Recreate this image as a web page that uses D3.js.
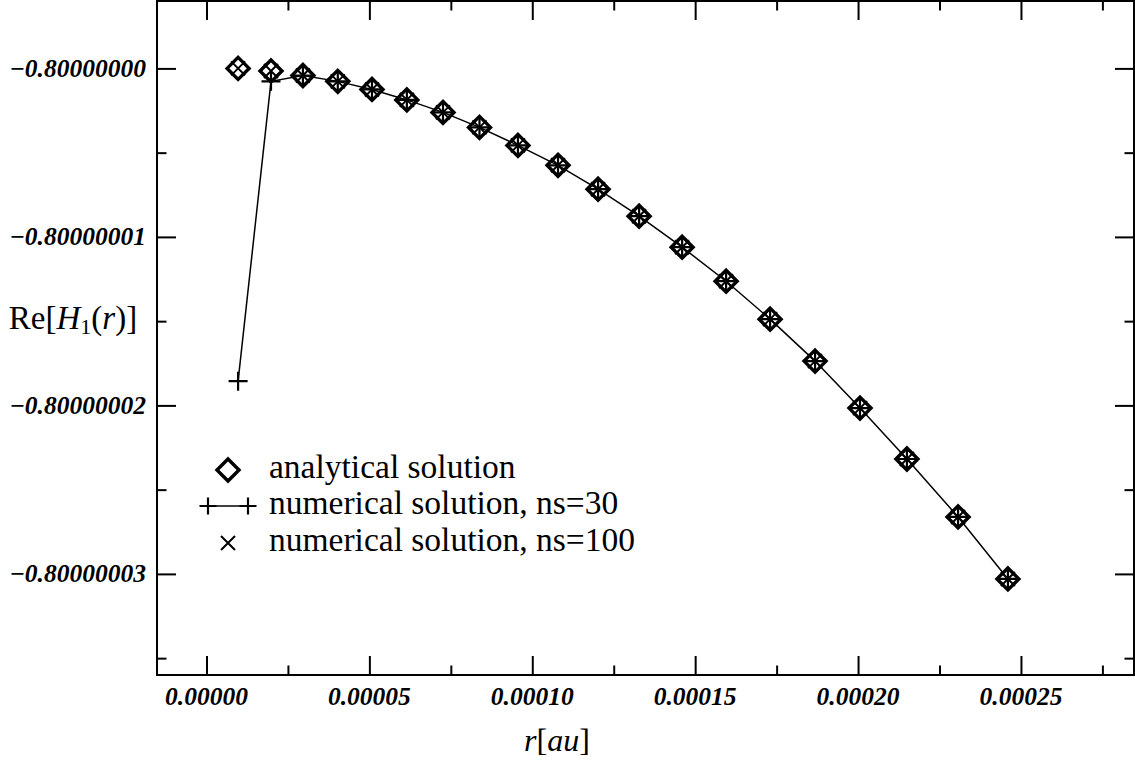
<!DOCTYPE html>
<html>
<head>
<meta charset="utf-8">
<script src="https://cdn.jsdelivr.net/npm/d3@7"></script>
<style>
  html, body { margin: 0; padding: 0; background: #fff; }
  svg { display: block; }
  text { fill: #000; }
</style>
</head>
<body>
<svg id="chart" width="1135" height="771"></svg>
<script>
// ---------------- data ----------------
const rValues = [0.97e-5, 1.98e-5, 2.96e-5, 4.03e-5, 5.08e-5, 6.15e-5, 7.26e-5, 8.38e-5, 9.56e-5,
  1.079e-4, 1.202e-4, 1.328e-4, 1.460e-4, 1.595e-4, 1.730e-4, 1.868e-4, 2.006e-4, 2.150e-4, 2.307e-4, 2.460e-4];
const analytical = [-0.80000000000, -0.80000000015, -0.80000000042, -0.80000000077, -0.80000000125,
  -0.80000000187, -0.80000000261, -0.80000000350, -0.80000000457, -0.80000000575, -0.80000000717,
  -0.80000000877, -0.80000001061, -0.80000001263, -0.80000001488, -0.80000001737, -0.80000002016,
  -0.80000002318, -0.80000002662, -0.80000003030];
const numericalNs30 = [-0.80000001856, -0.80000000077, -0.80000000042, -0.80000000077, -0.80000000125,
  -0.80000000187, -0.80000000261, -0.80000000350, -0.80000000457, -0.80000000575, -0.80000000717,
  -0.80000000877, -0.80000001061, -0.80000001263, -0.80000001488, -0.80000001737, -0.80000002016,
  -0.80000002318, -0.80000002662, -0.80000003030];
const numericalNs100 = [-0.80000000000, -0.80000000015, -0.80000000042, -0.80000000077, -0.80000000125,
  -0.80000000187, -0.80000000261, -0.80000000350, -0.80000000457, -0.80000000575, -0.80000000717,
  -0.80000000877, -0.80000001061, -0.80000001263, -0.80000001488, -0.80000001737, -0.80000002016,
  -0.80000002318, -0.80000002662, -0.80000003030];

const xMajorTicks = [0, 0.00005, 0.00010, 0.00015, 0.00020, 0.00025];
const xMinorTicks = [0.000025, 0.000075, 0.000125, 0.000175, 0.000225, 0.000275];
const xTickLabels = ["0.00000", "0.00005", "0.00010", "0.00015", "0.00020", "0.00025"];
const yMajorTicks = [-0.80000000, -0.80000001, -0.80000002, -0.80000003];
const yMinorTicks = [-0.800000005, -0.800000015, -0.800000025, -0.800000035];
const yTickLabels = ["\u22120.80000000", "\u22120.80000001", "\u22120.80000002", "\u22120.80000003"];
const legendLabels = ["analytical solution", "numerical solution, ns=30", "numerical solution, ns=100"];

// ---------------- layout ----------------
const svg = d3.select("#chart");
const L = 157, R = 1134, T = 1, B = 675;
const x = d3.scaleLinear().domain([-1.519e-5, 2.847e-4]).range([L, R]);
const y = d3.scaleLinear().domain([-0.800000036, -0.799999996]).range([B, T]);

const serif = "'Liberation Serif', 'Times New Roman', serif";

// ticks via d3 axes (inward)
function tickAxis(axisFn, scale, ticks, size, transform) {
  const g = svg.append("g").attr("transform", transform)
    .call(axisFn(scale).tickValues(ticks).tickSize(size).tickFormat(""));
  g.select(".domain").remove();
  g.selectAll(".tick line").attr("stroke", "#000").attr("stroke-width", 2);
  return g;
}
tickAxis(d3.axisBottom, x, xMajorTicks, -19, `translate(0,${B})`);
tickAxis(d3.axisBottom, x, xMinorTicks, -9.5, `translate(0,${B})`);
tickAxis(d3.axisTop, x, xMajorTicks, -19, `translate(0,${T})`);
tickAxis(d3.axisTop, x, xMinorTicks, -9.5, `translate(0,${T})`);
tickAxis(d3.axisLeft, y, yMajorTicks, -19, `translate(${L},0)`);
tickAxis(d3.axisLeft, y, yMinorTicks, -9.5, `translate(${L},0)`);
tickAxis(d3.axisRight, y, yMajorTicks, -19, `translate(${R},0)`);
tickAxis(d3.axisRight, y, yMinorTicks, -9.5, `translate(${R},0)`);

// frame
svg.append("rect").attr("x", L).attr("y", T).attr("width", R - L).attr("height", B - T)
  .attr("fill", "none").attr("stroke", "#000").attr("stroke-width", 2);

// tick labels
svg.append("g").selectAll("text").data(xMajorTicks).join("text")
  .attr("x", d => x(d)).attr("y", 705)
  .attr("text-anchor", "middle")
  .style("font-family", serif).style("font-weight", "bold").style("font-style", "italic")
  .style("font-size", "25.5px")
  .text((d, i) => xTickLabels[i]);

svg.append("g").selectAll("text").data(yMajorTicks).join("text")
  .attr("x", 146).attr("y", d => y(d) + 8.5)
  .attr("text-anchor", "end")
  .style("font-family", serif).style("font-weight", "bold").style("font-style", "italic")
  .style("font-size", "25.5px")
  .text((d, i) => yTickLabels[i]);

// axis titles
const yt = svg.append("text").attr("x", 73).attr("y", 329).attr("text-anchor", "middle")
  .style("font-family", serif).style("font-size", "33px");
yt.append("tspan").text("Re[");
yt.append("tspan").style("font-style", "italic").text("H");
yt.append("tspan").style("font-size", "22px").attr("dy", 5).text("1");
yt.append("tspan").attr("dy", -5).text("(");
yt.append("tspan").style("font-style", "italic").text("r");
yt.append("tspan").text(")]");

const xt = svg.append("text").attr("x", 557).attr("y", 751).attr("text-anchor", "middle")
  .style("font-family", serif).style("font-size", "32px");
xt.append("tspan").style("font-style", "italic").text("r");
xt.append("tspan").text("[");
xt.append("tspan").style("font-style", "italic").text("au");
xt.append("tspan").text("]");

// ---------------- marks ----------------
const line = d3.line().x(d => x(d[0])).y(d => y(d[1]));
const ns30 = rValues.map((r, i) => [r, numericalNs30[i]]);
svg.append("path").datum(ns30).attr("d", line)
  .attr("fill", "none").attr("stroke", "#000").attr("stroke-width", 1.5);

const diamondPath = (cx, cy, s) => `M${cx},${cy - s}L${cx + s},${cy}L${cx},${cy + s}L${cx - s},${cy}Z`;
const plusPath = (cx, cy, s) => `M${cx - s},${cy}H${cx + s}M${cx},${cy - s}V${cy + s}`;
const crossPath = (cx, cy, s) => `M${cx - s},${cy - s}L${cx + s},${cy + s}M${cx - s},${cy + s}L${cx + s},${cy - s}`;

svg.append("g").selectAll("path").data(rValues).join("path")
  .attr("d", (r, i) => diamondPath(x(r), y(analytical[i]), 11))
  .attr("fill", "none").attr("stroke", "#000").attr("stroke-width", 3.4);

svg.append("g").selectAll("path").data(rValues).join("path")
  .attr("d", (r, i) => plusPath(x(r), y(numericalNs30[i]), 9.5))
  .attr("fill", "none").attr("stroke", "#000").attr("stroke-width", 2.2);

svg.append("g").selectAll("path").data(rValues).join("path")
  .attr("d", (r, i) => crossPath(x(r), y(numericalNs100[i]), 7))
  .attr("fill", "none").attr("stroke", "#000").attr("stroke-width", 2);

// ---------------- legend ----------------
const legX = 228, legY = [470, 506, 543], legTextX = 269;
const lg = svg.append("g");
lg.append("path").attr("d", diamondPath(legX, legY[0], 11))
  .attr("fill", "none").attr("stroke", "#000").attr("stroke-width", 3.4);
lg.append("line").attr("x1", 208).attr("x2", 248).attr("y1", legY[1]).attr("y2", legY[1])
  .attr("stroke", "#000").attr("stroke-width", 1.5);
lg.append("path").attr("d", plusPath(208, legY[1], 8.5) + plusPath(248, legY[1], 8.5))
  .attr("fill", "none").attr("stroke", "#000").attr("stroke-width", 2.2);
lg.append("path").attr("d", crossPath(legX, legY[2], 7))
  .attr("fill", "none").attr("stroke", "#000").attr("stroke-width", 2);
lg.selectAll("text").data(legendLabels).join("text")
  .attr("x", legTextX).attr("y", (d, i) => legY[i] + 7.5)
  .style("font-family", serif).style("font-size", "33.5px")
  .text(d => d);
</script>
</body>
</html>
